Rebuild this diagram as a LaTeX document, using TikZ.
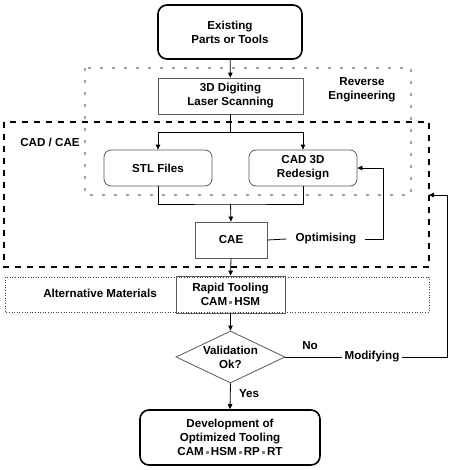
\documentclass[tikz,border=0pt]{standalone}
\usepackage{fontspec}
\setmainfont{Liberation Sans}
\usepackage{xcolor}
\usetikzlibrary{arrows.meta,shapes.geometric}
\definecolor{regray}{rgb}{0.64,0.64,0.58}
\definecolor{boxgray}{gray}{0.35}
\newcommand{\dotsep}{\,\textcolor{gray}{\rule[0.25ex]{0.28em}{0.28em}}\,}

\begin{document}
\begin{tikzpicture}[x=1pt,y=-1pt,
every node/.style={font=\fontsize{11.6}{14}\selectfont\bfseries, align=center},
flowbox/.style={draw, inner sep=0pt, line width=0.8pt},
roundbox/.style={flowbox, rounded corners=7pt},
bigbox/.style={roundbox, line width=1.6pt, rounded corners=9pt},
link/.style={line width=0.8pt},
arrow/.style={link, -{Triangle[length=5pt,width=4.5pt]}}]
\useasboundingbox (0,0) rectangle (474,469);
% regions
\draw [regray, line width=1.6pt, dash pattern=on 3pt off 9pt] (85,68) rectangle (411,195);
\draw [black, line width=2.2pt, dash pattern=on 6pt off 6pt] (4,122) rectangle (429,267);
\draw [black!75, line width=0.6pt, dotted] (5,277) rectangle (429,312);
\node at (362,90) {Reverse\\Engineering};
\node at (50,142) {CAD / CAE};
\node at (100,293) {Alternative Materials};
% boxes
\node [bigbox, minimum width=144pt, minimum height=54pt] (exist) at (230,32) {Existing\\Parts or Tools};
\node [flowbox, draw=boxgray, minimum width=145pt, minimum height=36pt] (scan) at (230.5,96) {3D Digiting\\Laser Scanning};
\node [roundbox, draw=boxgray, minimum width=108pt, minimum height=36pt] (stl) at (158,168) {STL Files};
\node [roundbox, draw=boxgray, minimum width=108pt, minimum height=36pt] (redes) at (303,168) {CAD 3D\\Redesign};
\node [flowbox, draw=boxgray, minimum width=72pt, minimum height=36pt] (cae) at (231,240) {CAE};
\node [flowbox, draw=boxgray, minimum width=109pt, minimum height=37pt] (rapid) at (230.5,294.5) {Rapid Tooling\\CAM\dotsep HSM};
\node [flowbox, draw=boxgray, diamond, aspect=2.1, minimum width=109pt, minimum height=52pt] (valid) at (230.5,357) {Validation\\Ok?};
\node [bigbox, minimum width=180pt, minimum height=55pt] (devel) at (230,437.5) {Development of\\Optimized Tooling\\CAM\dotsep HSM\dotsep RP\dotsep RT};
\node [inner sep=9pt] (opt) at (326,239) {Optimising};
\node [inner sep=2.5pt] (modif) at (372,357) {Modifying};
\node (no) at (310,346) {No};
\node (yes) at (249,394) {Yes};
% connectors
\coordinate (split) at (230.5,132);
\coordinate (join) at (230.5,204);
\coordinate (optturn) at (383,239);
\coordinate (modturn) at (447,357);
\coordinate (cadedge) at (429,195);
\draw [arrow] (exist) -- (scan);
\draw [link] (scan.south) -- (split);
\draw [arrow] (split) -| (stl.north);
\draw [arrow] (split) -| (redes.north);
\draw [link] (stl.south) |- (join) -| (redes.south);
\draw [arrow] (join) -- (cae.north);
\draw [link] (cae.east) -- (opt.west);
\draw [arrow] (opt.east) -- (optturn) |- (redes.east);
\draw [arrow] (cae.south) -- (rapid.north);
\draw [arrow] (rapid.south) -- (valid.north);
\draw [link] (valid.east) -- (modif.west);
\draw [arrow] (modif.east) -- (modturn) |- (cadedge);
\draw [arrow] (valid.south) -- (devel.north);
\end{tikzpicture}
\end{document}
